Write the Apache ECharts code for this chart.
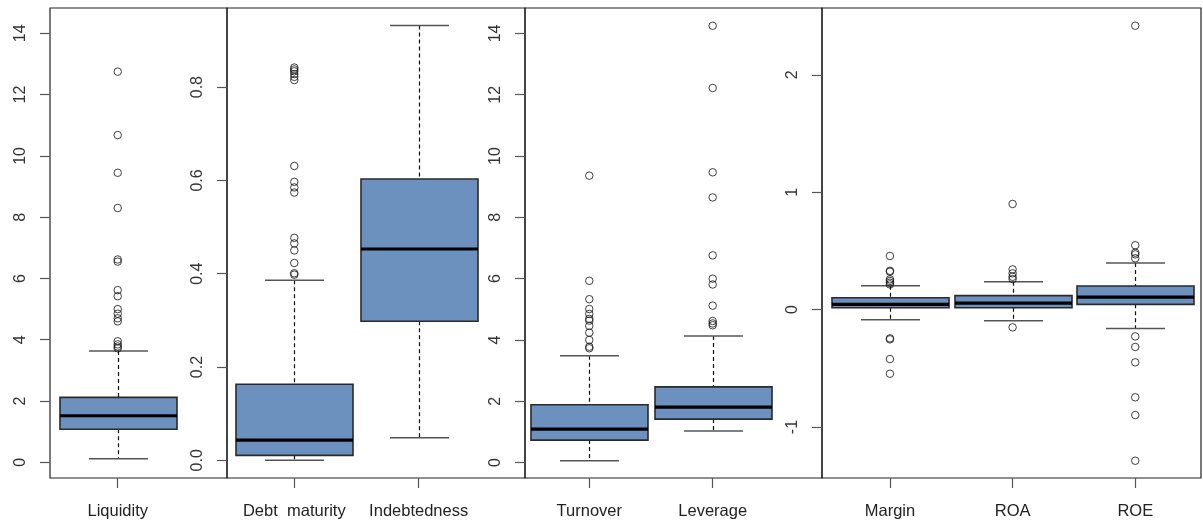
<!DOCTYPE html>
<html>
<head>
<meta charset="utf-8">
<script src="https://cdn.jsdelivr.net/npm/echarts@6/dist/echarts.min.js"></script>
<style>
html,body{margin:0;padding:0;background:#fff;}
#chart{width:1203px;height:527px;}
</style>
</head>
<body>
<div id="chart"></div>
<script>
// ---- categories ----
const panel1Categories = ['Liquidity'];
const panel2Categories = ['Debt  maturity', 'Indebtedness'];
const panel3Categories = ['Turnover', 'Leverage'];
const panel4Categories = ['Margin', 'ROA', 'ROE'];

// ---- box statistics: [lower whisker, Q1, median, Q3, upper whisker] ----
const liquidityBox    = [0.12, 1.08, 1.52, 2.12, 3.63];
const debtMaturityBox = [0.0, 0.0107, 0.0435, 0.163, 0.386];
const indebtednessBox = [0.0485, 0.298, 0.453, 0.603, 0.932];
const turnoverBox     = [0.06, 0.734, 1.093, 1.886, 3.485];
const leverageBox     = [1.03, 1.42, 1.81, 2.47, 4.13];
const marginBox       = [-0.086, 0.016, 0.045, 0.101, 0.204];
const roaBox          = [-0.094, 0.016, 0.056, 0.119, 0.238];
const roeBox          = [-0.160, 0.045, 0.107, 0.201, 0.397];

// ---- outliers ----
const liquidityOut    = [12.75, 10.68, 9.45, 8.3, 6.62, 6.55, 5.62, 5.42, 5.0, 4.85, 4.7, 4.6, 3.95, 3.85, 3.78, 3.72];
const debtMaturityOut = [0.842, 0.838, 0.834, 0.828, 0.822, 0.815, 0.631, 0.597, 0.585, 0.574, 0.477, 0.465, 0.450, 0.423, 0.401, 0.398];
const indebtednessOut = [];
const turnoverOut     = [9.36, 5.93, 5.33, 5.01, 4.85, 4.69, 4.63, 4.46, 4.24, 4.0, 3.78, 3.73];
const leverageOut     = [14.25, 12.22, 9.47, 8.65, 6.76, 6.0, 5.81, 5.12, 4.62, 4.54, 4.48];
const marginOut       = [0.457, 0.331, 0.323, 0.258, 0.244, 0.229, 0.215, -0.245, -0.253, -0.421, -0.546];
const roaOut          = [0.90, 0.343, 0.309, 0.28, 0.26, -0.151];
const roeOut          = [2.418, 0.548, 0.485, 0.471, 0.437, -0.228, -0.318, -0.449, -0.747, -0.898, -1.287];

// ---- tick values ----
const panel1Ticks = [0, 2, 4, 6, 8, 10, 12, 14];
const panel2Ticks = [0, 0.2, 0.4, 0.6, 0.8];
const panel3Ticks = [0, 2, 4, 6, 8, 10, 12, 14];
const panel4Ticks = [-1, 0, 1, 2];

// ---- style / layout ----
const FONT = "'Liberation Sans', Arial, Helvetica, sans-serif";
const BOX_FILL = '#6d91bf';
const BOX_W = 117;
const CAP_W = 59;

const panels = [
  { cats: panel1Categories, boxes: [liquidityBox], outs: [liquidityOut], ticks: panel1Ticks,
    fmt: v => String(v), grid: { left: 50, width: 177 }, x: [-0.546, 0.881], y: [-0.512, 14.827] },
  { cats: panel2Categories, boxes: [debtMaturityBox, indebtednessBox], outs: [debtMaturityOut, indebtednessOut], ticks: panel2Ticks,
    fmt: v => v.toFixed(1), grid: { left: 227, width: 298 }, x: [-0.541, 1.855], y: [-0.0379, 0.9696] },
  { cats: panel3Categories, boxes: [turnoverBox, leverageBox], outs: [turnoverOut, leverageOut], ticks: panel3Ticks,
    fmt: v => String(v), grid: { left: 525, width: 297 }, x: [-0.521, 1.886], y: [-0.502, 14.829] },
  { cats: panel4Categories, boxes: [marginBox, roaBox, roeBox], outs: [marginOut, roaOut, roeOut], ticks: panel4Ticks,
    fmt: v => String(v), grid: { left: 822, width: 379 }, x: [-0.554, 2.536], y: [-1.434, 2.569] }
];

function renderBox(params, api) {
  const xv = api.value(0);
  const lo = api.coord([xv, api.value(1)]);
  const q1 = api.coord([xv, api.value(2)]);
  const md = api.coord([xv, api.value(3)]);
  const q3 = api.coord([xv, api.value(4)]);
  const hi = api.coord([xv, api.value(5)]);
  const cx = Math.round(lo[0]) + 0.5;
  const hw = BOX_W / 2, cw = CAP_W / 2;
  const dash = { stroke: '#111', lineWidth: 1.2, lineDash: [4, 3] };
  const cap = { stroke: '#555', lineWidth: 1.5 };
  return {
    type: 'group',
    children: [
      { type: 'line', shape: { x1: cx, y1: hi[1], x2: cx, y2: q3[1] }, style: dash },
      { type: 'line', shape: { x1: cx, y1: q1[1], x2: cx, y2: lo[1] }, style: dash },
      { type: 'line', shape: { x1: cx - cw, y1: hi[1], x2: cx + cw, y2: hi[1] }, style: cap },
      { type: 'line', shape: { x1: cx - cw, y1: lo[1], x2: cx + cw, y2: lo[1] }, style: cap },
      { type: 'rect', shape: { x: cx - hw, y: q3[1], width: BOX_W, height: q1[1] - q3[1] },
        style: { fill: BOX_FILL, stroke: '#2a2a2a', lineWidth: 1.6 } },
      { type: 'line', shape: { x1: cx - hw, y1: md[1], x2: cx + hw, y2: md[1] },
        style: { stroke: '#000', lineWidth: 3.2 } }
    ]
  };
}

const grid = [], xAxis = [], yAxis = [], series = [];
panels.forEach((p, i) => {
  grid.push({ left: p.grid.left, width: p.grid.width, top: 8, height: 470,
    show: true, borderColor: '#222', borderWidth: 1.2, backgroundColor: 'transparent' });
  const catIdx = p.cats.map((c, k) => k);
  xAxis.push({
    type: 'value', gridIndex: i, min: p.x[0], max: p.x[1], position: 'bottom',
    splitLine: { show: false },
    axisLine: { show: false, onZero: false },
    axisTick: { show: true, inside: false, customValues: catIdx, length: 10, lineStyle: { color: '#555', width: 1.2 } },
    axisLabel: { show: true, customValues: catIdx, formatter: v => p.cats[Math.round(v)] || '',
      fontFamily: FONT, fontSize: 16.5, color: '#222', margin: 25 }
  });
  yAxis.push({
    type: 'value', gridIndex: i, min: p.y[0], max: p.y[1], position: 'left',
    splitLine: { show: false },
    axisLine: { show: false, onZero: false },
    axisTick: { show: true, inside: false, customValues: p.ticks, length: 10, lineStyle: { color: '#555', width: 1.2 } },
    axisLabel: { show: true, customValues: p.ticks, formatter: p.fmt, rotate: 90,
      fontFamily: FONT, fontSize: 16, color: '#333', margin: 21 }
  });
  series.push({
    type: 'custom', xAxisIndex: i, yAxisIndex: i,
    renderItem: renderBox,
    encode: { x: 0, y: [1, 2, 3, 4, 5] },
    data: p.boxes.map((b, k) => [k].concat(b)),
    silent: true, z: 2
  });
  const outData = [];
  p.outs.forEach((arr, k) => arr.forEach(v => outData.push([k, v])));
  series.push({
    type: 'scatter', xAxisIndex: i, yAxisIndex: i,
    data: outData, symbol: 'circle', symbolSize: 7.5,
    itemStyle: { color: 'rgba(255,255,255,0)', borderColor: '#111', borderWidth: 1 },
    silent: true, z: 3
  });
});

const chart = echarts.init(document.getElementById('chart'), null, { renderer: 'canvas' });
chart.setOption({
  animation: false,
  backgroundColor: '#fff',
  grid, xAxis, yAxis, series
});
</script>
</body>
</html>
